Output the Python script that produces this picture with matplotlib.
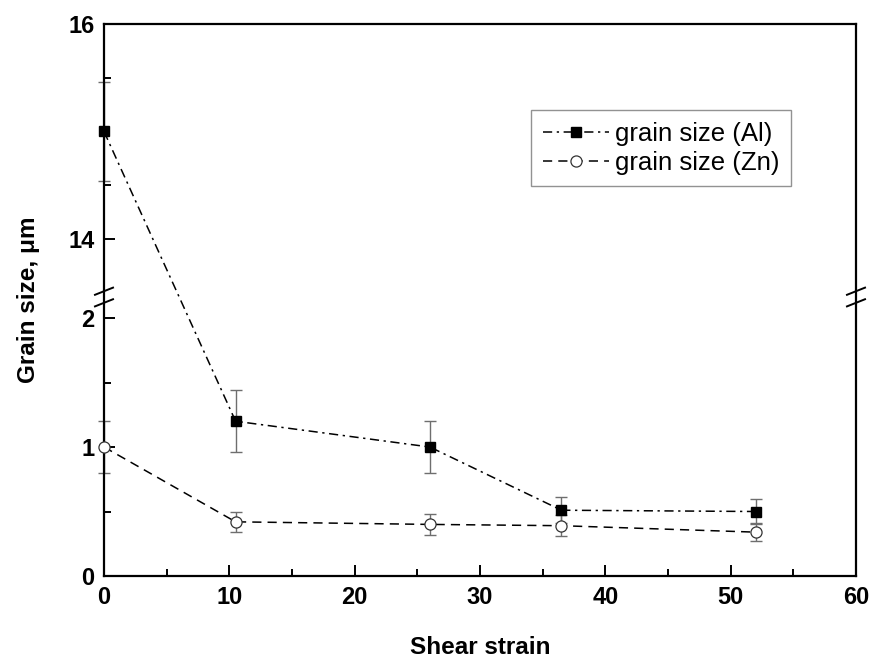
import numpy as np
import matplotlib
matplotlib.use("Agg")
import matplotlib.pyplot as plt
from matplotlib.ticker import FixedLocator

# --- data ---
strain = [0, 10.5, 26, 36.5, 52]
al_size = [15.0, 1.2, 1.0, 0.51, 0.50]
al_err = [0.46, 0.24, 0.20, 0.10, 0.10]
zn_size = [1.0, 0.42, 0.40, 0.39, 0.34]
zn_err = [0.20, 0.08, 0.08, 0.08, 0.07]

y_major = [0, 1, 2, 14, 16]
y_minor = [0.5, 1.5, 14.5, 15.5]

# broken y axis: lower part 0..LO, upper part HI..16
LO, HI, TOP = 2.163, 13.46, 16.0
S_LO, S_HI = 129.0, 107.5   # px per unit in each part
GAP = 0.01


def fwd(y):
    y = np.asarray(y, dtype=float)
    base = LO * S_LO
    return np.where(y <= LO, y * S_LO,
                    np.where(y >= HI, base + GAP + (y - HI) * S_HI,
                             base + (y - LO) / (HI - LO) * GAP))


def inv(v):
    v = np.asarray(v, dtype=float)
    base = LO * S_LO
    return np.where(v <= base, v / S_LO,
                    np.where(v >= base + GAP, HI + (v - base - GAP) / S_HI,
                             LO + (v - base) / GAP * (HI - LO)))


plt.rcParams['font.family'] = ['Liberation Sans', 'DejaVu Sans']

fig = plt.figure(figsize=(8.76, 6.62), dpi=100)
ax = fig.add_axes([104 / 876, 1 - 576 / 662, (856 - 104) / 876, (576 - 24) / 662])
ax.set_yscale('function', functions=(fwd, inv))

ax.errorbar(strain, al_size, yerr=al_err, fmt='none', ecolor='#6e6e6e',
            elinewidth=1.0, capsize=4, capthick=1.0, zorder=2, clip_on=False)
ax.errorbar(strain, zn_size, yerr=zn_err, fmt='none', ecolor='#6e6e6e',
            elinewidth=1.0, capsize=4, capthick=1.0, zorder=2, clip_on=False)

ax.plot(strain, al_size, color='black', lw=1.1, linestyle=(0, (6, 3, 1.5, 3)),
        marker='s', markersize=7, markerfacecolor='black', markeredgecolor='black',
        label='grain size (Al)', zorder=3, clip_on=False)
ax.plot(strain, zn_size, color='black', lw=1.1, linestyle=(0, (6, 4)),
        marker='o', markersize=8, markerfacecolor='white', markeredgecolor='#333333',
        markeredgewidth=0.9, label='grain size (Zn)', zorder=3, clip_on=False)

ax.set_xlim(0, 60)
ax.set_ylim(0, TOP)
ax.set_xticks([0, 10, 20, 30, 40, 50, 60])
ax.xaxis.set_minor_locator(FixedLocator([5, 15, 25, 35, 45, 55]))
ax.yaxis.set_major_locator(FixedLocator(y_major))
ax.yaxis.set_minor_locator(FixedLocator(y_minor))
ax.set_yticklabels([str(v) for v in y_major])

ax.tick_params(which='both', direction='in', top=False, right=False, width=1.4)
ax.tick_params(which='major', length=8, labelsize=17, pad=7)
ax.tick_params(which='minor', length=5)
for lab in ax.get_xticklabels() + ax.get_yticklabels():
    lab.set_fontweight('bold')

for sp in ax.spines.values():
    sp.set_linewidth(1.6)

ax.set_xlabel('Shear strain', fontsize=17.5, fontweight='bold', labelpad=20)
ax.set_ylabel('Grain size, μm', fontsize=17.5, fontweight='bold', labelpad=20)

# break marks on both side spines
yb = fwd(LO) / fwd(TOP)
h = 0.013
for xs in (0.0, 1.0):
    for dy in (-0.0105, 0.0105):
        ax.plot([xs - 0.012, xs + 0.012], [yb + dy - h / 2, yb + dy + h / 2],
                transform=ax.transAxes, color='black', lw=1.4, clip_on=False, zorder=5)

leg = ax.legend(loc='upper left', bbox_to_anchor=((531 - 104) / 752, 1 - (110 - 24) / 552),
                fontsize=18.5, frameon=True, fancybox=False, edgecolor='#777777',
                handlelength=2.6, handletextpad=0.2, borderpad=0.45,
                labelspacing=0.2, borderaxespad=0)
leg.get_frame().set_linewidth(1.0)

fig.savefig('out.png', dpi=100)
